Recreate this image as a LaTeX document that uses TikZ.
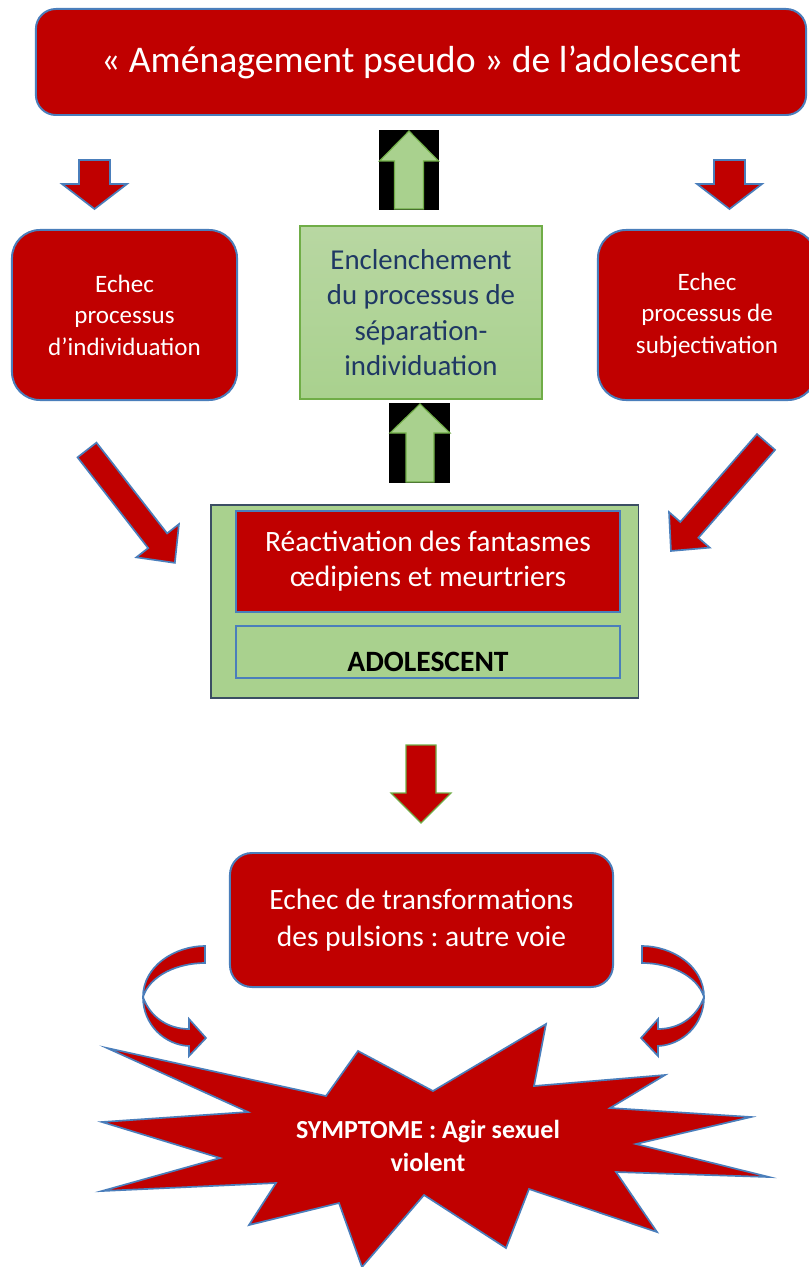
\documentclass[tikz,border=0pt]{standalone}
\usepackage{fontspec}
\setmainfont{Carlito}
\frenchspacing
\definecolor{boxred}{HTML}{C00000}
\definecolor{edgeblue}{HTML}{4A7EBB}
\definecolor{lightgreen}{HTML}{A9D18E}
\definecolor{paletop}{HTML}{B8D7A2}
\definecolor{navytext}{HTML}{1F3864}
\definecolor{arrowgreen}{HTML}{70AD47}
\definecolor{slateedge}{HTML}{3B4E63}

\begin{document}
\begin{tikzpicture}[x=0.025cm,y=-0.025cm,
    redbox/.style={draw=edgeblue, line width=1.4pt, fill=boxred, text=white, align=center},
    redarrow/.style={draw=edgeblue, line width=1.2pt, fill=boxred},
    greenarrow/.style={draw=arrowgreen, line width=0.8pt, fill=lightgreen},
    curvedarrow/.style={draw=edgeblue, line width=1.2pt, fill=boxred}]
\useasboundingbox (0,0) rectangle (808,1267);

% Draw top box
\node[redbox, rounded corners=0.5cm, minimum width=19.25cm, minimum height=2.65cm,
  font=\fontsize{26.8}{32}\selectfont] (amenagement) at (421,62) {« Aménagement pseudo » de l’adolescent};

% Draw small arrows below the top box
\draw[redarrow, shift={(94.5,160)}, rotate=-90] (0,-15.5) -- (24,-15.5) -- (24,-32.5) -- (49,0) -- (24,32.5) -- (24,15.5) -- (0,15.5) -- cycle;
\draw[redarrow, shift={(729.5,160)}, rotate=-90] (0,-15.5) -- (24,-15.5) -- (24,-32.5) -- (49,0) -- (24,32.5) -- (24,15.5) -- (0,15.5) -- cycle;
\fill[black] (379,130) rectangle (439,210);
\draw[greenarrow, shift={(409,209)}, rotate=90] (0,-14.5) -- (48,-14.5) -- (48,-29.5) -- (78,0) -- (48,29.5) -- (48,14.5) -- (0,14.5) -- cycle;

% Draw the three middle boxes
\node[redbox, rounded corners=0.7cm, minimum width=5.625cm, minimum height=4.25cm,
  font=\fontsize{17.8}{22.4}\selectfont] (individuation) at (124.5,315) {Echec\\processus\\d’individuation};
\node[draw=arrowgreen, line width=0.8pt, top color=paletop, bottom color=lightgreen, text=navytext, align=center,
  minimum width=6.05cm, minimum height=4.325cm,
  font=\fontsize{20.5}{25.1}\selectfont] (separation) at (421,312.5) {Enclenchement\\du processus de\\séparation-\\individuation};
\node[redbox, rounded corners=0.7cm, minimum width=5.45cm, minimum height=4.25cm,
  font=\fontsize{17.8}{22.4}\selectfont] (subjectivation) at (707,315) {Echec\\processus de\\subjectivation};

% Draw diagonal arrows and second green arrow
\draw[redarrow, shift={(87,450)}, rotate=-52.1] (0,-12) -- (115,-12) -- (115,-27) -- (143,0) -- (115,27) -- (115,12) -- (0,12) -- cycle;
\draw[redarrow, shift={(766,442)}, rotate=-131.1] (0,-12) -- (116.6,-12) -- (116.6,-27) -- (144.6,0) -- (116.6,27) -- (116.6,12) -- (0,12) -- cycle;
\fill[black] (389,403) rectangle (450,483);
\draw[greenarrow, shift={(420,482)}, rotate=90] (0,-14) -- (49,-14) -- (49,-30) -- (78,0) -- (49,30) -- (49,14) -- (0,14) -- cycle;

% Draw adolescent block
\node[draw=slateedge, line width=0.8pt, fill=lightgreen, minimum width=10.675cm, minimum height=4.825cm] (adobox) at (424.5,601.5) {};
\node[redbox, minimum width=9.6cm, minimum height=2.525cm,
  font=\fontsize{21}{25}\selectfont] (fantasmes) at (428,561.5) {Réactivation des fantasmes\\œdipiens et meurtriers};
\node[draw=edgeblue, line width=1.4pt, fill=lightgreen, minimum width=9.6cm, minimum height=1.3cm,
  text height=27.6pt, text depth=0pt, font=\bfseries\fontsize{21}{25}\selectfont] (adolescent) at (428,652) {ADOLESCENT};

% Draw arrow down to the lower box
\draw[draw=arrowgreen, line width=0.8pt, fill=boxred, shift={(421,745)}, rotate=-90] (0,-15) -- (48,-15) -- (48,-30) -- (78,0) -- (48,30) -- (48,15) -- (0,15) -- cycle;

% Draw lower box
\node[redbox, rounded corners=0.55cm, minimum width=9.575cm, minimum height=3.35cm,
  font=\fontsize{21}{26.3}\selectfont] (transformation) at (421.5,920) {Echec de transformations\\des pulsions : autre voie};

% Draw curved arrows
\draw[curvedarrow] (205,946) .. controls (175,946) and (143,966) .. (143,997) .. controls (150,1017) and (168,1029) .. (189,1029)
  -- (189,1019) -- (206,1038) -- (189,1056) -- (189,1046) .. controls (165,1045) and (143,1025) .. (143,997)
  .. controls (150,975) and (178,963) .. (205,963) -- cycle;
\draw[curvedarrow, shift={(847,0)}, xscale=-1] (205,946) .. controls (175,946) and (143,966) .. (143,997) .. controls (150,1017) and (168,1029) .. (189,1029)
  -- (189,1019) -- (206,1038) -- (189,1056) -- (189,1046) .. controls (165,1045) and (143,1025) .. (143,997)
  .. controls (150,975) and (178,963) .. (205,963) -- cycle;

% Draw symptom star
\draw[redarrow] (107,1048) -- (326,1096) -- (358,1051) -- (433,1091) -- (546,1024) -- (534,1086) -- (665,1075) -- (610,1108)
  -- (751,1117) -- (636,1144) -- (769,1177) -- (616,1172) -- (657,1232) -- (529,1189) -- (506,1248) -- (424,1195)
  -- (362,1267) -- (339,1203) -- (249,1225) -- (276,1183) -- (102,1191) -- (220,1158) -- (102,1122) -- (248,1112) -- cycle;
\node[text=white, align=center, font=\bfseries\fontsize{18.5}{23}\selectfont] (symptome) at (428,1146) {SYMPTOME : Agir sexuel\\violent};
\end{tikzpicture}
\end{document}
